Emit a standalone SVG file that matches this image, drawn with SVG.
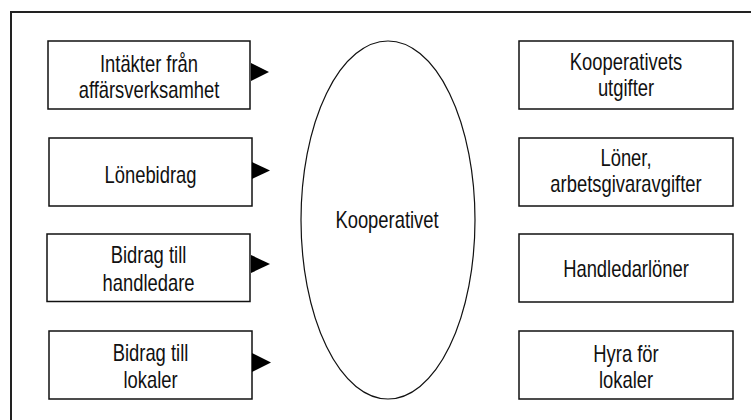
<svg xmlns="http://www.w3.org/2000/svg" width="751" height="420" viewBox="0 0 751 420">
<style>
.frame{fill:none;stroke:#222;stroke-width:2}
.box{fill:#fff;stroke:#111;stroke-width:1.5}
.ell{fill:#fff;stroke:#111;stroke-width:1.2}
.arr{fill:#000;stroke:none}
text{font-family:"Liberation Sans",Arial,sans-serif;font-size:23px;fill:#111;text-anchor:middle}
</style>
<rect width="751" height="420" fill="#fff"/>
<rect class="frame" x="11" y="12" width="760" height="430"/>
<g id="kooperativet">
<ellipse class="ell" cx="388" cy="220" rx="87" ry="179"/>
<text transform="translate(387 228) scale(0.8 1)">Kooperativet</text>
</g>
<g id="intakter">
<rect class="box" x="48" y="41" width="202" height="68"/>
<text transform="translate(149 72) scale(0.8 1)">Intäkter från</text>
<text transform="translate(149 98) scale(0.8 1)">affärsverksamhet</text>
</g>
<g id="lonebidrag">
<rect class="box" x="49" y="138" width="203" height="68"/>
<text transform="translate(150.5 182.5) scale(0.8 1)">Lönebidrag</text>
</g>
<g id="bidrag-handledare">
<rect class="box" x="47" y="234" width="203" height="67.5"/>
<text transform="translate(148.5 263) scale(0.8 1)">Bidrag till</text>
<text transform="translate(148.5 291) scale(0.8 1)">handledare</text>
</g>
<g id="bidrag-lokaler">
<rect class="box" x="49" y="331" width="203" height="68"/>
<text transform="translate(150.5 361) scale(0.8 1)">Bidrag till</text>
<text transform="translate(150.5 388) scale(0.8 1)">lokaler</text>
</g>
<g id="utgifter">
<rect class="box" x="519" y="41" width="214" height="68"/>
<text transform="translate(626 70) scale(0.8 1)">Kooperativets</text>
<text transform="translate(626 96) scale(0.8 1)">utgifter</text>
</g>
<g id="loner">
<rect class="box" x="519" y="138" width="214" height="68"/>
<text transform="translate(626 166) scale(0.8 1)">Löner,</text>
<text transform="translate(626 192) scale(0.8 1)">arbetsgivaravgifter</text>
</g>
<g id="handledarloner">
<rect class="box" x="519" y="234" width="214" height="68"/>
<text transform="translate(626 277) scale(0.8 1)">Handledarlöner</text>
</g>
<g id="hyra">
<rect class="box" x="519" y="331" width="214" height="68"/>
<text transform="translate(626 362) scale(0.8 1)">Hyra för</text>
<text transform="translate(626 388) scale(0.8 1)">lokaler</text>
</g>
<g id="connectors">
<polygon class="arr" points="251,63 269,72 251,81"/>
<polygon class="arr" points="252,162 270,170.5 252,179"/>
<polygon class="arr" points="251,255 270,264 251,273"/>
<polygon class="arr" points="252,353 271,362.5 252,372"/>
</g>
</svg>
